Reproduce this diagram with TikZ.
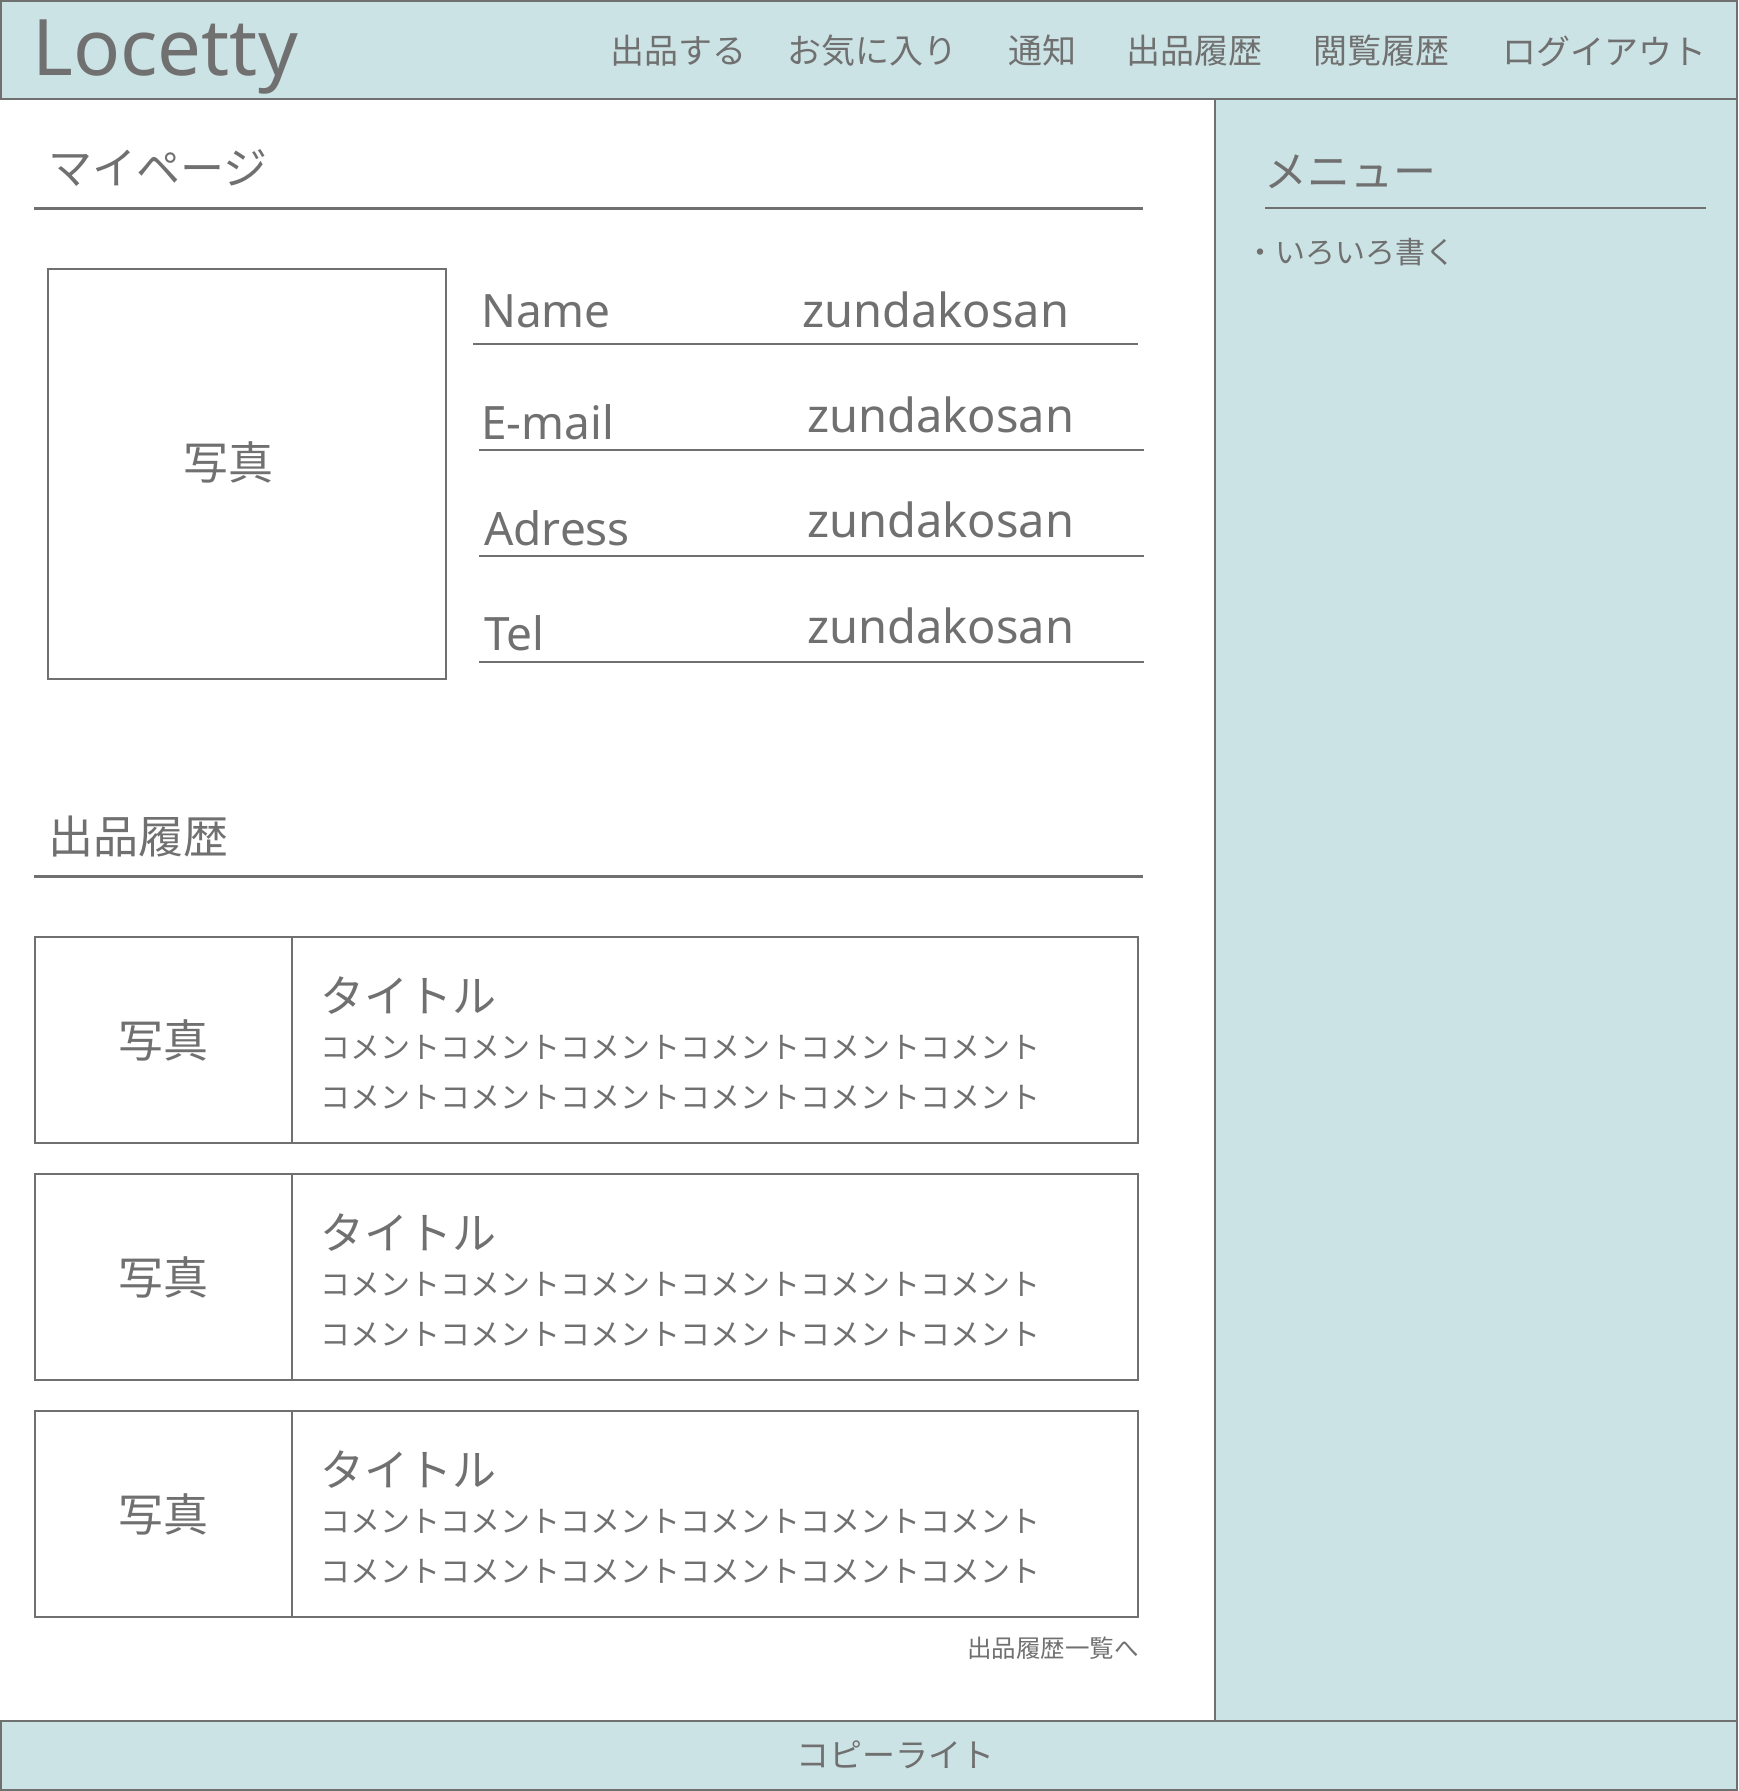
\documentclass[tikz,border=0pt]{standalone}
\usepackage{fontspec}
\setmainfont{Noto Sans CJK JP}
\newfontfamily\latinfont{Noto Sans}
\usetikzlibrary{positioning}
\definecolor{inkgray}{HTML}{707070}
\definecolor{paleblue}{HTML}{CCE3E5}
\newcommand{\fsz}[1]{\fontsize{#1}{#1}\selectfont}

\begin{document}
\begin{tikzpicture}[x=1pt,y=-1pt]
	\tikzstyle{txt}=[inner sep=0, text=inkgray]
	\tikzstyle{band}=[draw=inkgray, fill=paleblue, line width=1.5pt]
	\tikzstyle{cell}=[draw=inkgray, rectangle, line width=2.5pt, inner sep=0, outer sep=0, text=inkgray]
	\tikzstyle{rule}=[draw=inkgray, line width=3pt]
	\tikzstyle{thin}=[draw=inkgray, line width=2pt]
	\tikzstyle{nav}=[txt, font=\fsz{34}]
	\tikzstyle{field}=[txt, font=\latinfont\fsz{46}, anchor=base west]
	\tikzstyle{value}=[txt, font=\latinfont\fsz{47}, anchor=base west]
	\tikzstyle{note}=[txt, font=\fsz{30}]

	\useasboundingbox[fill=white] (0,0) rectangle (1738,1791);

	% header, side menu, footer
	\draw[band] (1,1) rectangle (1737,99);
	\draw[band] (1215,99) rectangle (1737,1721);
	\draw[band] (1,1721) rectangle (1737,1790);

	\node[txt, font=\latinfont\fsz{78}, anchor=base west] (logo) at (32,75) {Locetty};
	\node[nav, anchor=west] (sell) at (610,51) {出品する};
	\node[nav] (fav) [right=41pt of sell] {お気に入り};
	\node[nav] (notice) [right=50pt of fav] {通知};
	\node[nav] (hist) [right=50pt of notice] {出品履歴};
	\node[nav] (seen) [right=51pt of hist] {閲覧履歴};
	\node[nav] (logout) [right=52pt of seen] {ログイアウト};

	% my page
	\node[txt, font=\fsz{44}, anchor=west] (mypage) at (48,168) {マイページ};
	\draw[rule] (34,208) -- (1143,208);

	\node[cell, line width=1.5pt, minimum width=398pt, minimum height=410pt, anchor=north west] (pic) at (48,269) {};
	\node[txt, font=\fsz{45}] (pictext) at (228,462) {写真};

	\node[field] (name) at (481,327) {Name};
	\node[value] (namev) at (802,327) {zundakosan};
	\node[field] (mail) at (481,439) {E-mail};
	\node[value] (mailv) at (807,432) {zundakosan};
	\node[field] (addr) at (484,545) {Adress};
	\node[value] (addrv) at (807,537) {zundakosan};
	\node[field] (tel) at (484,650) {Tel};
	\node[value] (telv) at (807,643) {zundakosan};
	\draw[thin] (473,344) -- (1138,344);
	\draw[thin] (479,450) -- (1144,450);
	\draw[thin] (479,556) -- (1144,556);
	\draw[thin] (479,662) -- (1144,662);

	% listing history
	\node[txt, font=\fsz{45}, anchor=west] (history) at (48,837) {出品履歴};
	\draw[rule] (34,876) -- (1143,876);

	\node[cell, minimum width=257pt, minimum height=206pt, anchor=north west, font=\fsz{45}] (pic1) at (35,937) {写真};
	\node[cell, minimum width=846pt, minimum height=206pt, anchor=west] (body1) at (pic1.east) {};
	\node[txt, font=\fsz{44}] (title1) [below right=39pt and 28pt of body1.north west] {タイトル};
	\node[note] (note1a) [below right=98pt and 28pt of body1.north west] {コメントコメントコメントコメントコメントコメント};
	\node[note] (note1b) [below right=148pt and 28pt of body1.north west] {コメントコメントコメントコメントコメントコメント};

	\node[cell, minimum width=257pt, minimum height=206pt, font=\fsz{45}] (pic2) [below=31pt of pic1] {写真};
	\node[cell, minimum width=846pt, minimum height=206pt, anchor=west] (body2) at (pic2.east) {};
	\node[txt, font=\fsz{44}] (title2) [below right=39pt and 28pt of body2.north west] {タイトル};
	\node[note] (note2a) [below right=98pt and 28pt of body2.north west] {コメントコメントコメントコメントコメントコメント};
	\node[note] (note2b) [below right=148pt and 28pt of body2.north west] {コメントコメントコメントコメントコメントコメント};

	\node[cell, minimum width=257pt, minimum height=206pt, font=\fsz{45}] (pic3) [below=31pt of pic2] {写真};
	\node[cell, minimum width=846pt, minimum height=206pt, anchor=west] (body3) at (pic3.east) {};
	\node[txt, font=\fsz{44}] (title3) [below right=39pt and 28pt of body3.north west] {タイトル};
	\node[note] (note3a) [below right=98pt and 28pt of body3.north west] {コメントコメントコメントコメントコメントコメント};
	\node[note] (note3b) [below right=148pt and 28pt of body3.north west] {コメントコメントコメントコメントコメントコメント};

	\node[txt, font=\fsz{24.5}, anchor=east] (more) at (1139,1648) {出品履歴一覧へ};

	% side menu
	\node[txt, font=\fsz{43}, anchor=west] (menu) at (1264,172) {メニュー};
	\draw[thin] (1265,208) -- (1706,208);
	\node[txt, font=\fsz{30}, anchor=west] (item) at (1245,252) {・いろいろ書く};

	\node[txt, font=\fsz{33}] (copy) at (895,1755) {コピーライト};
\end{tikzpicture}
\end{document}
